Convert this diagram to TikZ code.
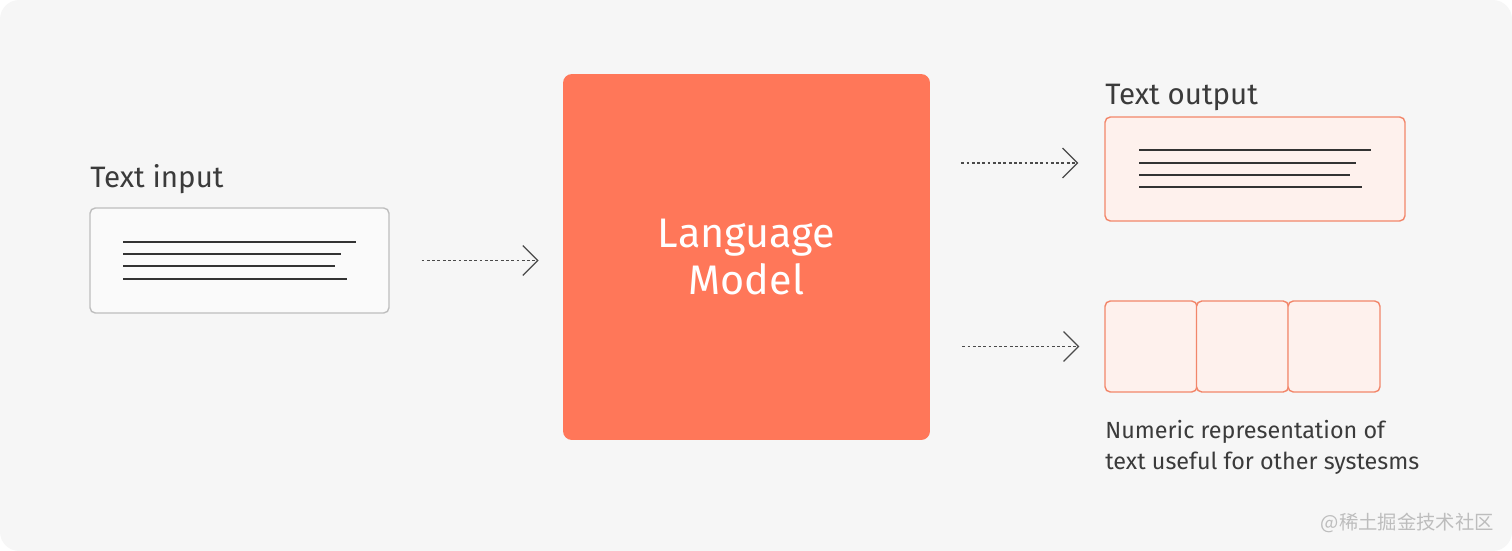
\documentclass[tikz,border=0pt]{standalone}
\usepackage{fontspec}
\usepackage{xcolor}
\setmainfont{Fira Sans}
\newfontfamily\cjkfont{Noto Sans CJK SC}
\usetikzlibrary{arrows.meta,positioning}
\definecolor{bgcolor}{HTML}{F6F6F6}
\definecolor{modelcolor}{HTML}{FF7759}
\definecolor{outfill}{HTML}{FEF1ED}
\definecolor{outdraw}{HTML}{F2866A}
\definecolor{infill}{HTML}{FAFAFA}
\definecolor{indraw}{HTML}{BEBEBE}
\definecolor{labelcolor}{HTML}{3B3B3B}
\definecolor{linecolor}{HTML}{333333}
\definecolor{arrowcolor}{HTML}{4A4A4A}
\definecolor{markcolor}{HTML}{BDBDBD}

\begin{document}
\begin{tikzpicture}[x=0.02cm, y=-0.02cm,
    flow/.style={draw=arrowcolor, line width=0.65pt, dash pattern=on 1.6pt off 1.4pt,
      -{Straight Barb[length=8.5pt, width=17pt, line width=0.7pt]}},
    textline/.style={draw=linecolor, line width=0.8pt},
    tokenbox/.style={draw=outdraw, fill=outfill, line width=0.8pt, rounded corners=3pt,
      minimum width=1.84cm, minimum height=1.82cm, inner sep=0pt},
    boxlabel/.style={anchor=base west, inner sep=0pt, text=labelcolor,
      font=\fontsize{16.8}{20}\selectfont}]
    % Background
    \fill[white] (0,0) rectangle (1512,551);
    \fill[bgcolor, rounded corners=11pt] (0,0) rectangle (1512,551);

    % Text input
    \node[draw=indraw, fill=infill, line width=0.8pt, rounded corners=3pt, inner sep=0pt,
      minimum width=5.98cm, minimum height=2.1cm] (inp) at (239.5,260.5) {};
    \node[boxlabel] (inlbl) at (90,187) {Text input};
    \foreach \y/\xe in {242/356, 254/341, 266/335, 279/347} {
        \draw[textline] (123,\y) -- (\xe,\y);
    }

    % Language model
    \node[fill=modelcolor, rounded corners=5pt, inner sep=0pt, minimum width=7.34cm,
      minimum height=7.32cm, text=white, align=center,
      font=\fontsize{23.5}{26.6}\selectfont] (lm) at (746.5,257) {Language\\Model};

    % Text output
    \node[draw=outdraw, fill=outfill, line width=0.8pt, rounded corners=3pt, inner sep=0pt,
      minimum width=6cm, minimum height=2.08cm] (out) at (1255,169) {};
    \node[boxlabel] (outlbl) at (1105,104) {Text output};
    \foreach \y/\xe in {150/1371, 163/1356, 175/1350, 187/1362} {
        \draw[textline] (1139,\y) -- (\xe,\y);
    }

    % Numeric representation
    \foreach \i in {1,2,3} {
        \node[tokenbox] (tok\i) at ({1151+91.5*(\i-1)},346.5) {};
    }
    \node[anchor=north west, inner sep=0pt, align=left, text=labelcolor,
      font=\fontsize{13.3}{17.6}\selectfont] (numlbl) at (1105,420)
      {Numeric representation of\\text useful for other systesms};

    % Arrows
    \draw[flow, shorten <=0.64cm, shorten >=0.48cm] (inp.east) -- (inp.east -| lm.west);
    \draw[flow, shorten <=0.62cm, shorten >=0.52cm]
      ([yshift=0.12cm]out.west -| lm.east) -- ([yshift=0.12cm]out.west);
    \draw[flow, shorten <=0.64cm, shorten >=0.5cm] (tok1.west -| lm.east) -- (tok1.west);

    % Watermark
    \node[anchor=east, inner sep=0pt, text=markcolor, font=\cjkfont\fontsize{11}{13}\selectfont]
      (mark) at (1494,523) {@稀土掘金技术社区};
\end{tikzpicture}
\end{document}
